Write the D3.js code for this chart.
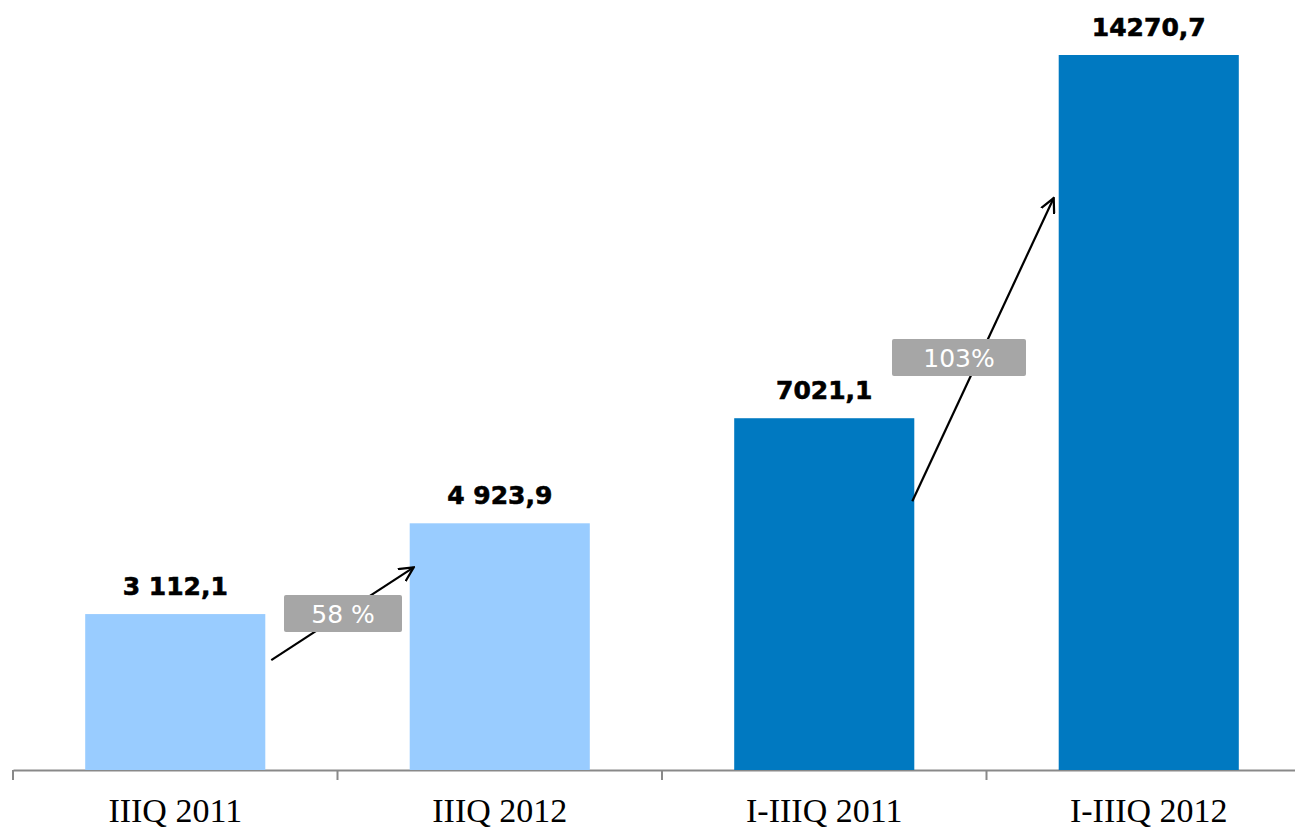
<!DOCTYPE html>
<html>
<head>
<meta charset="utf-8">
<script src="https://cdn.jsdelivr.net/npm/d3@7"></script>
<style>
  body { margin: 0; background: #fff; }
</style>
</head>
<body>
<div id="chart"></div>
<script>
var categories = ["IIIQ 2011", "IIIQ 2012", "I-IIIQ 2011", "I-IIIQ 2012"];
var values = [3112.1, 4923.9, 7021.1, 14270.7];
var valueLabels = ["3 112,1", "4 923,9", "7021,1", "14270,7"];
var colors = ["#99ccff", "#99ccff", "#0079c1", "#0079c1"];
// growth annotations: from bar index -> to bar index
var growth = [
  { from: 0, to: 1, label: "58 %" },
  { from: 2, to: 3, label: "103%" }
];

var svgWidth = 1295;
var svgHeight = 829;
var baseY = 770;

var svg = d3.select("#chart")
  .append("svg")
  .attr("width", svgWidth)
  .attr("height", svgHeight);

var x = d3.scaleBand()
  .domain(categories)
  .range([13, 1311])
  .paddingInner(0.445)
  .paddingOuter(0.2225);

var y = d3.scaleLinear()
  .domain([0, d3.max(values)])
  .range([baseY, 55]);

var step = x.step();
var gap = step - x.bandwidth();

// axis
var axis = svg.append("g")
  .attr("transform", "translate(0," + baseY + ")")
  .call(d3.axisBottom(x).tickSize(0).tickPadding(28).tickSizeOuter(0));
axis.select(".domain").attr("stroke", "#898989").attr("stroke-width", 2);
axis.selectAll(".tick text")
  .attr("font-family", "Liberation Serif, Times New Roman, serif")
  .attr("font-size", 34)
  .attr("fill", "#000");

var bounds = categories.map(function(c) { return x(c) - gap / 2; });
svg.append("g").selectAll("line")
  .data(bounds)
  .enter()
  .append("line")
  .attr("x1", function(d) { return d; })
  .attr("x2", function(d) { return d; })
  .attr("y1", baseY)
  .attr("y2", baseY + 10)
  .attr("stroke", "#898989")
  .attr("stroke-width", 2);

// bars
svg.selectAll("rect.bar")
  .data(values)
  .enter()
  .append("rect")
  .attr("class", "bar")
  .attr("x", function(d, i) { return x(categories[i]); })
  .attr("y", function(d) { return y(d); })
  .attr("width", x.bandwidth())
  .attr("height", function(d) { return baseY - y(d); })
  .attr("fill", function(d, i) { return colors[i]; });

// value labels
svg.selectAll("text.val")
  .data(values)
  .enter()
  .append("text")
  .attr("class", "val")
  .attr("x", function(d, i) { return x(categories[i]) + x.bandwidth() / 2; })
  .attr("y", function(d) { return y(d) - 19; })
  .attr("text-anchor", "middle")
  .attr("font-family", "DejaVu Sans, Verdana, sans-serif")
  .attr("font-weight", "bold")
  .attr("font-size", 25)
  .attr("stroke", "#000")
  .attr("stroke-width", 0.6)
  .attr("fill", "#000")
  .text(function(d, i) { return valueLabels[i]; });

// arrows
svg.append("defs").append("marker")
  .attr("id", "head")
  .attr("viewBox", "0 0 10 10")
  .attr("refX", 9)
  .attr("refY", 5)
  .attr("markerWidth", 16)
  .attr("markerHeight", 16)
  .attr("markerUnits", "userSpaceOnUse")
  .attr("orient", "auto")
  .append("path")
  .attr("d", "M0,0.5 L9,5 L0,9.5")
  .attr("fill", "none")
  .attr("stroke", "#000")
  .attr("stroke-width", 1.4);

var arrowPos = [
  { x1: x(categories[0]) + x.bandwidth() + 6, y1: y(values[0]) + 46,
    x2: x(categories[1]) + 4, y2: y(values[1]) + 44 },
  { x1: x(categories[2]) + x.bandwidth() - 2, y1: y(values[2]) + 83,
    x2: x(categories[3]) - 5, y2: y(values[3]) + 143 }
];

svg.selectAll("line.arrow")
  .data(arrowPos)
  .enter()
  .append("line")
  .attr("class", "arrow")
  .attr("x1", function(d) { return d.x1; })
  .attr("y1", function(d) { return d.y1; })
  .attr("x2", function(d) { return d.x2; })
  .attr("y2", function(d) { return d.y2; })
  .attr("stroke", "#000")
  .attr("stroke-width", 2.2)
  .attr("marker-end", "url(#head)");

// growth boxes
var boxes = [
  { x: 284, y: 595, w: 118, h: 37 },
  { x: 892, y: 339, w: 134, h: 37 }
];
var g = svg.selectAll("g.growth")
  .data(growth)
  .enter()
  .append("g")
  .attr("class", "growth");
g.append("rect")
  .attr("x", function(d, i) { return boxes[i].x; })
  .attr("y", function(d, i) { return boxes[i].y; })
  .attr("width", function(d, i) { return boxes[i].w; })
  .attr("height", function(d, i) { return boxes[i].h; })
  .attr("rx", 2)
  .attr("fill", "#a6a6a6");
g.append("text")
  .attr("x", function(d, i) { return boxes[i].x + boxes[i].w / 2; })
  .attr("y", function(d, i) { return boxes[i].y + boxes[i].h / 2 + 9; })
  .attr("text-anchor", "middle")
  .attr("font-family", "DejaVu Sans, Verdana, sans-serif")
  .attr("font-size", 25)
  .attr("fill", "#fff")
  .text(function(d) { return d.label; });
</script>
</body>
</html>
